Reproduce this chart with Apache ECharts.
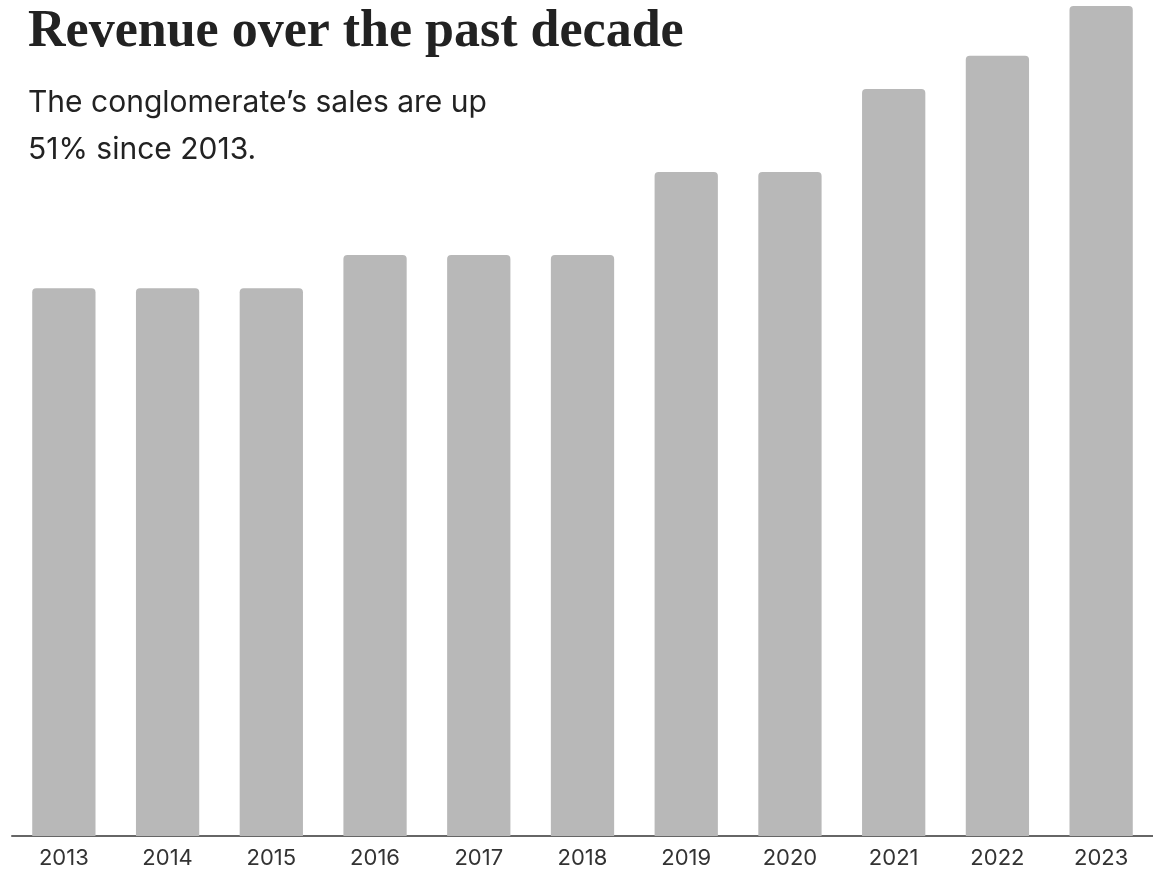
<!DOCTYPE html>
<html>
<head>
<meta charset="utf-8">
<script src="https://cdn.jsdelivr.net/npm/echarts@6/dist/echarts.min.js"></script>
<style>
  html, body { margin: 0; padding: 0; background: #fff; }
  #chart { width: 1153px; height: 871px; }
</style>
</head>
<body>
<div id="chart"></div>
<script>
// revenue by year (2023 = 50)
const YEARS = ['2013', '2014', '2015', '2016', '2017', '2018', '2019', '2020', '2021', '2022', '2023'];
const REVENUE = [33, 33, 33, 35, 35, 35, 40, 40, 45, 47, 50];

const TITLE = 'Revenue over the past decade';
const SUBTITLE = 'The conglomerate\u2019s sales are up\n51% since 2013.';

const chart = echarts.init(document.getElementById('chart'), null, { renderer: 'canvas' });

chart.setOption({
  backgroundColor: '#fff',
  animation: false,
  title: [
    {
      text: TITLE, left: 23, top: 2,
      textStyle: { fontFamily: 'Liberation Serif', fontWeight: 'bold', fontSize: 52, color: '#222' },
    },
    {
      text: SUBTITLE, left: 23, top: 74,
      textStyle: { fontFamily: 'Inter', fontWeight: 'normal', fontSize: 30, lineHeight: 47, color: '#222' },
    },
  ],
  grid: { left: 12, right: 0, top: 6, bottom: 35 },
  xAxis: {
    type: 'category', data: YEARS,
    axisLine: { show: true, lineStyle: { color: '#666', width: 2 } },
    axisTick: { show: false },
    axisLabel: { color: '#333', fontSize: 22, fontFamily: 'Inter', margin: 11 },
  },
  yAxis: {
    type: 'value', min: 0, max: 50,
    show: false, splitLine: { show: false },
  },
  series: [{
    type: 'bar',
    data: REVENUE,
    barCategoryGap: '39%',
    itemStyle: { color: '#b8b8b8', borderRadius: [4, 4, 0, 0] },
  }],
});
</script>
</body>
</html>
